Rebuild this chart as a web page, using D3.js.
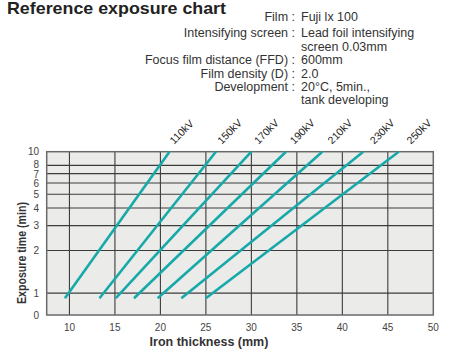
<!DOCTYPE html>
<html>
<head>
<meta charset="utf-8">
<script src="https://cdn.jsdelivr.net/npm/d3@7"></script>
<style>
  body { margin: 0; background: #fff; }
  text { font-family: "Liberation Sans", Arial, Helvetica, sans-serif; fill: #222; }
  .grid line { stroke: #3c3c3c; stroke-width: 1.1; }
  .tick_label { font-size: 10px; fill: #444; }
  .kv { font-size: 10.5px; }
  .info { font-size: 12.5px; fill: #333; }
  .axis_title { font-size: 12.5px; font-weight: bold; fill: #333; }
</style>
</head>
<body>
<svg id="chart" width="452" height="349"></svg>
<script>
// tube voltages and where each exposure line starts / ends (iron thickness, mm)
const voltages = ["110kV", "150kV", "170kV", "190kV", "210kV", "230kV", "250kV"];
const thickStart = [9.5, 13.3, 15.1, 17.1, 19.7, 22.3, 25.0];
const thickEnd = [21.0, 26.1, 30.0, 33.8, 37.8, 42.3, 46.2];
const timeStart = 0.92;
const timeEnd = 10;

const xTicks = [10, 15, 20, 25, 30, 35, 40, 45, 50];
const yTicks = [1, 2, 3, 4, 5, 6, 7, 8, 10];

const infoKeys = ["Film", "Intensifying screen", "", "Focus film distance (FFD)", "Film density (D)", "Development", ""];
const infoVals = ["Fuji lx 100", "Lead foil intensifying", "screen 0.03mm", "600mm", "2.0", "20°C, 5min.,", "tank developing"];

const svg = d3.select("#chart");

const x = d3.scaleLinear().domain([7.5, 50]).range([46.7, 433.3]);
const y = d3.scaleLog().domain([0.7, 10]).range([315, 151.7]);

// title + info block
svg.append("text").attr("x", 7).attr("y", 14).attr("font-size", "17px").attr("font-weight", "bold")
  .attr("fill", "#222").attr("textLength", 219).attr("lengthAdjust", "spacingAndGlyphs")
  .text("Reference exposure chart");

const infoY = [20.7, 37.3, 50.7, 64.3, 77.7, 90.7, 104.3];
infoKeys.forEach((k, i) => {
  if (k) svg.append("text").attr("class", "info").attr("x", 295).attr("y", infoY[i])
    .attr("text-anchor", "end").text(k + " :");
  svg.append("text").attr("class", "info").attr("x", 301).attr("y", infoY[i]).text(infoVals[i]);
});

// plot background
svg.append("rect").attr("x", x(7.5)).attr("y", y(10))
  .attr("width", x(50) - x(7.5)).attr("height", y(0.7) - y(10))
  .attr("fill", "#ebebea");

const grid = svg.append("g").attr("class", "grid");
grid.selectAll(".vx").data(xTicks.filter(d => d < 50)).join("line")
  .attr("x1", d => x(d)).attr("x2", d => x(d)).attr("y1", y(10)).attr("y2", y(0.7));
grid.selectAll(".hy").data(yTicks.filter(d => d < 10)).join("line")
  .attr("x1", x(7.5)).attr("x2", x(50)).attr("y1", d => y(d)).attr("y2", d => y(d));

svg.append("rect").attr("x", x(7.5)).attr("y", y(10))
  .attr("width", x(50) - x(7.5)).attr("height", y(0.7) - y(10))
  .attr("fill", "none").attr("stroke", "#6a6a6a").attr("stroke-width", 1.5);

// exposure lines
const lineData = voltages.map((v, i) => [[thickStart[i], timeStart], [thickEnd[i], timeEnd]]);
const line = d3.line().x(d => x(d[0])).y(d => y(d[1]));
svg.selectAll(".exp").data(lineData).join("path")
  .attr("d", line).attr("fill", "none").attr("stroke", "#17a9a9").attr("stroke-width", 2.6);

// voltage labels
voltages.forEach((v, i) => {
  const lx = x(thickEnd[i]) + 4.5 + i * 1.3;
  const ly = y(timeEnd) - 7;
  svg.append("text").attr("class", "kv")
    .attr("transform", `translate(${lx},${ly}) rotate(-45)`).text(v);
});

// tick labels
svg.selectAll(".xt").data(xTicks).join("text").attr("class", "tick_label")
  .attr("x", d => x(d)).attr("y", 331).attr("text-anchor", "middle").text(d => d);
svg.selectAll(".yt").data(yTicks).join("text").attr("class", "tick_label")
  .attr("x", 39).attr("y", d => y(d) + (d === 8 ? 2.5 : d === 7 ? 4.5 : 3.6))
  .attr("text-anchor", "end").text(d => d);
svg.append("text").attr("class", "tick_label").attr("x", 39).attr("y", y(0.7) + 4)
  .attr("text-anchor", "end").text("0");

// axis titles
svg.append("text").attr("class", "axis_title").attr("x", 209).attr("y", 346)
  .attr("text-anchor", "middle").text("Iron thickness (mm)");
svg.append("text").attr("class", "axis_title")
  .attr("transform", "translate(26,253) rotate(-90)")
  .attr("textLength", 102).attr("lengthAdjust", "spacingAndGlyphs")
  .attr("text-anchor", "middle").text("Exposure time (min)");
</script>
</body>
</html>
